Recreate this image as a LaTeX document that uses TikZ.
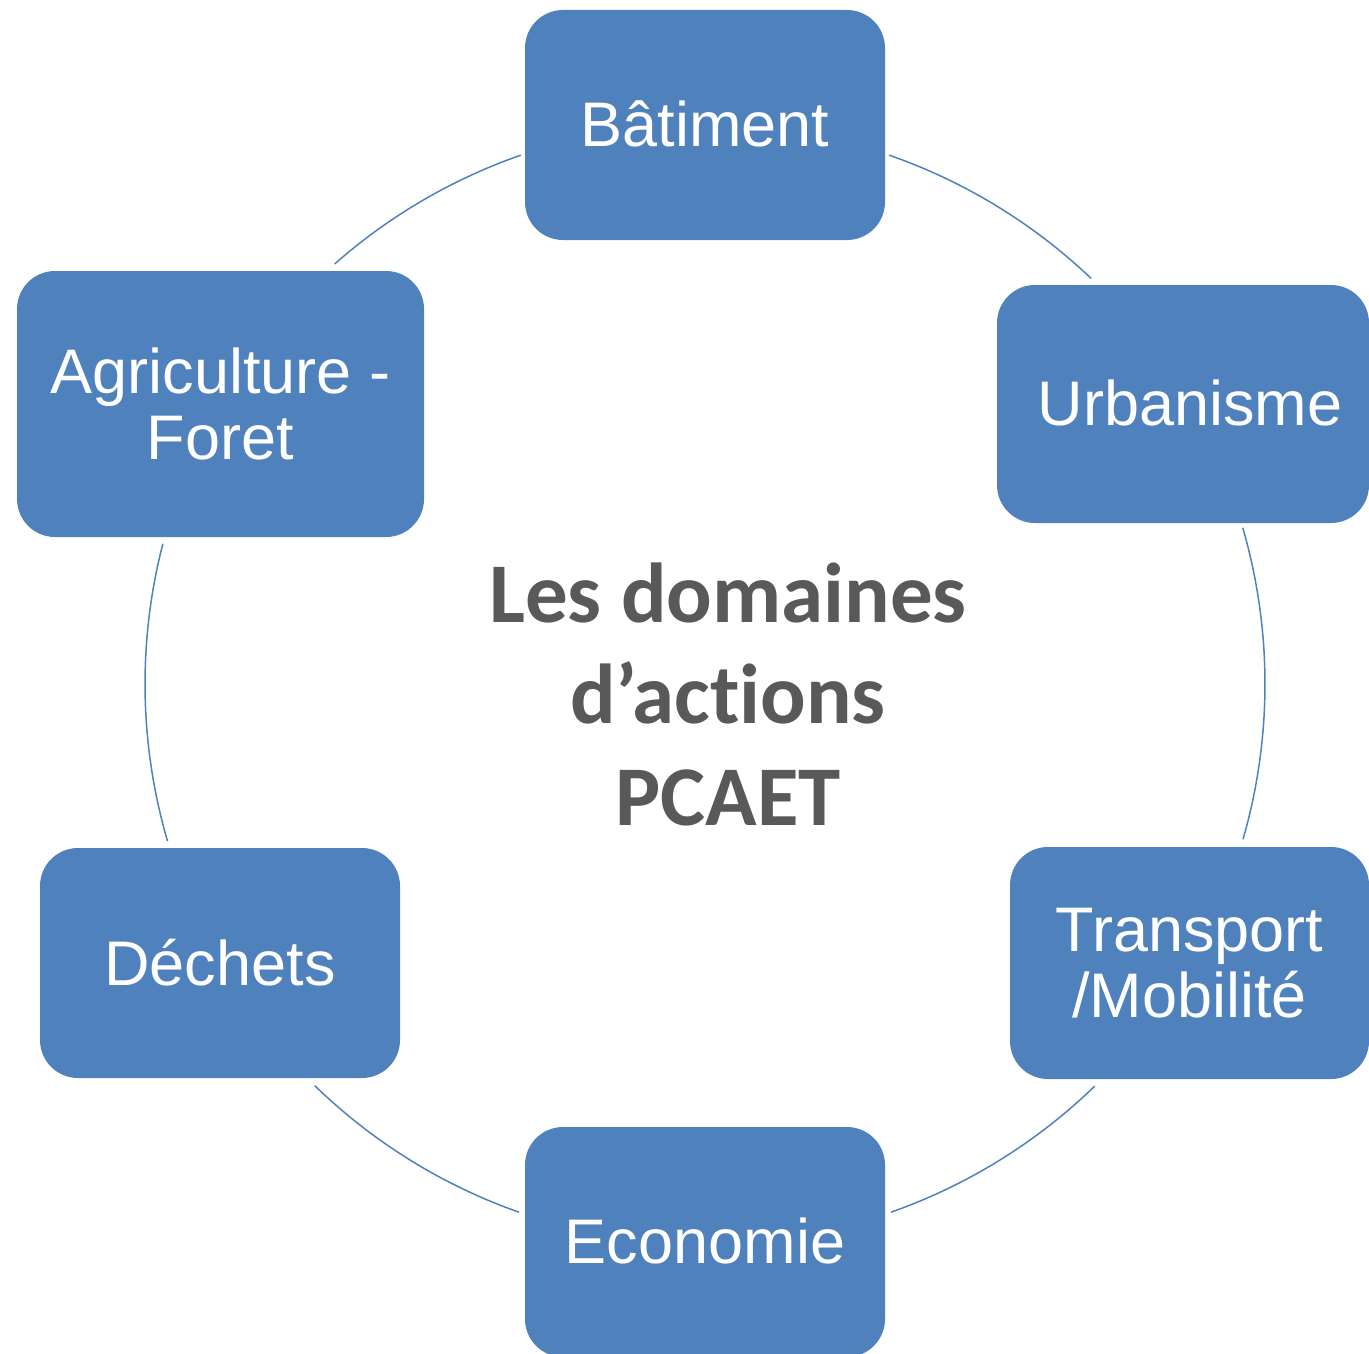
\documentclass[tikz,border=0pt]{standalone}
\usepackage{fontspec}
\setmainfont{Liberation Sans}
\newfontfamily\calibrifont[Ligatures=NoCommon]{Carlito}
\definecolor{boxblue}{HTML}{4F81BD}
\definecolor{titlegray}{HTML}{595959}
\begin{document}
\begin{tikzpicture}[x=1pt,y=1pt,
  domainbox/.style={draw=none, fill=boxblue, rounded corners=38pt, inner sep=0pt,
    text=white, align=center, font=\fontsize{63}{66}\selectfont},
  ring/.style={draw=boxblue, line width=1.5pt}]
\useasboundingbox (0,0) rectangle (1369,-1354);
\coordinate (C) at (705,-684);
% ring arcs
\draw[ring] ([shift={(46.4:560)}]C) arc[start angle=46.4, end angle=70.8, radius=560];
\draw[ring] ([shift={(-16.1:560)}]C) arc[start angle=-16.1, end angle=16.2, radius=560];
\draw[ring] ([shift={(-70.6:560)}]C) arc[start angle=-70.6, end angle=-45.9, radius=560];
\draw[ring] ([shift={(-134.2:560)}]C) arc[start angle=-134.2, end angle=-109.4, radius=560];
\draw[ring] ([shift={(165.5:560)}]C) arc[start angle=165.5, end angle=196.3, radius=560];
\draw[ring] ([shift={(109.2:560)}]C) arc[start angle=109.2, end angle=131.4, radius=560];
% boxes
\node[domainbox, minimum width=360pt, minimum height=230pt] (bat) at (705,-125) {\raisebox{3pt}{Bâtiment}};
\node[domainbox, minimum width=372pt, minimum height=238pt] (urb) at (1183,-404) {\hspace*{14pt}\raisebox{3pt}{Urbanisme}};
\node[domainbox, minimum width=359pt, minimum height=232pt] (tra) at (1189.5,-963) {Transport\\/Mobilité};
\node[domainbox, minimum width=360pt, minimum height=230pt] (eco) at (705,-1242) {\raisebox{2pt}{Economie}};
\node[domainbox, minimum width=360pt, minimum height=230pt] (dec) at (220,-963) {\raisebox{2pt}{Déchets}};
\node[domainbox, minimum width=407pt, minimum height=266pt] (agr) at (220.5,-404) {Agriculture -\\Foret};
% title
\node[text=titlegray, align=center, inner sep=0pt,
  font=\calibrifont\bfseries\fontsize{85}{101.5}\selectfont] (title) at (728,-694)
  {Les domaines\\d’actions\\PCAET};
\end{tikzpicture}
\end{document}
